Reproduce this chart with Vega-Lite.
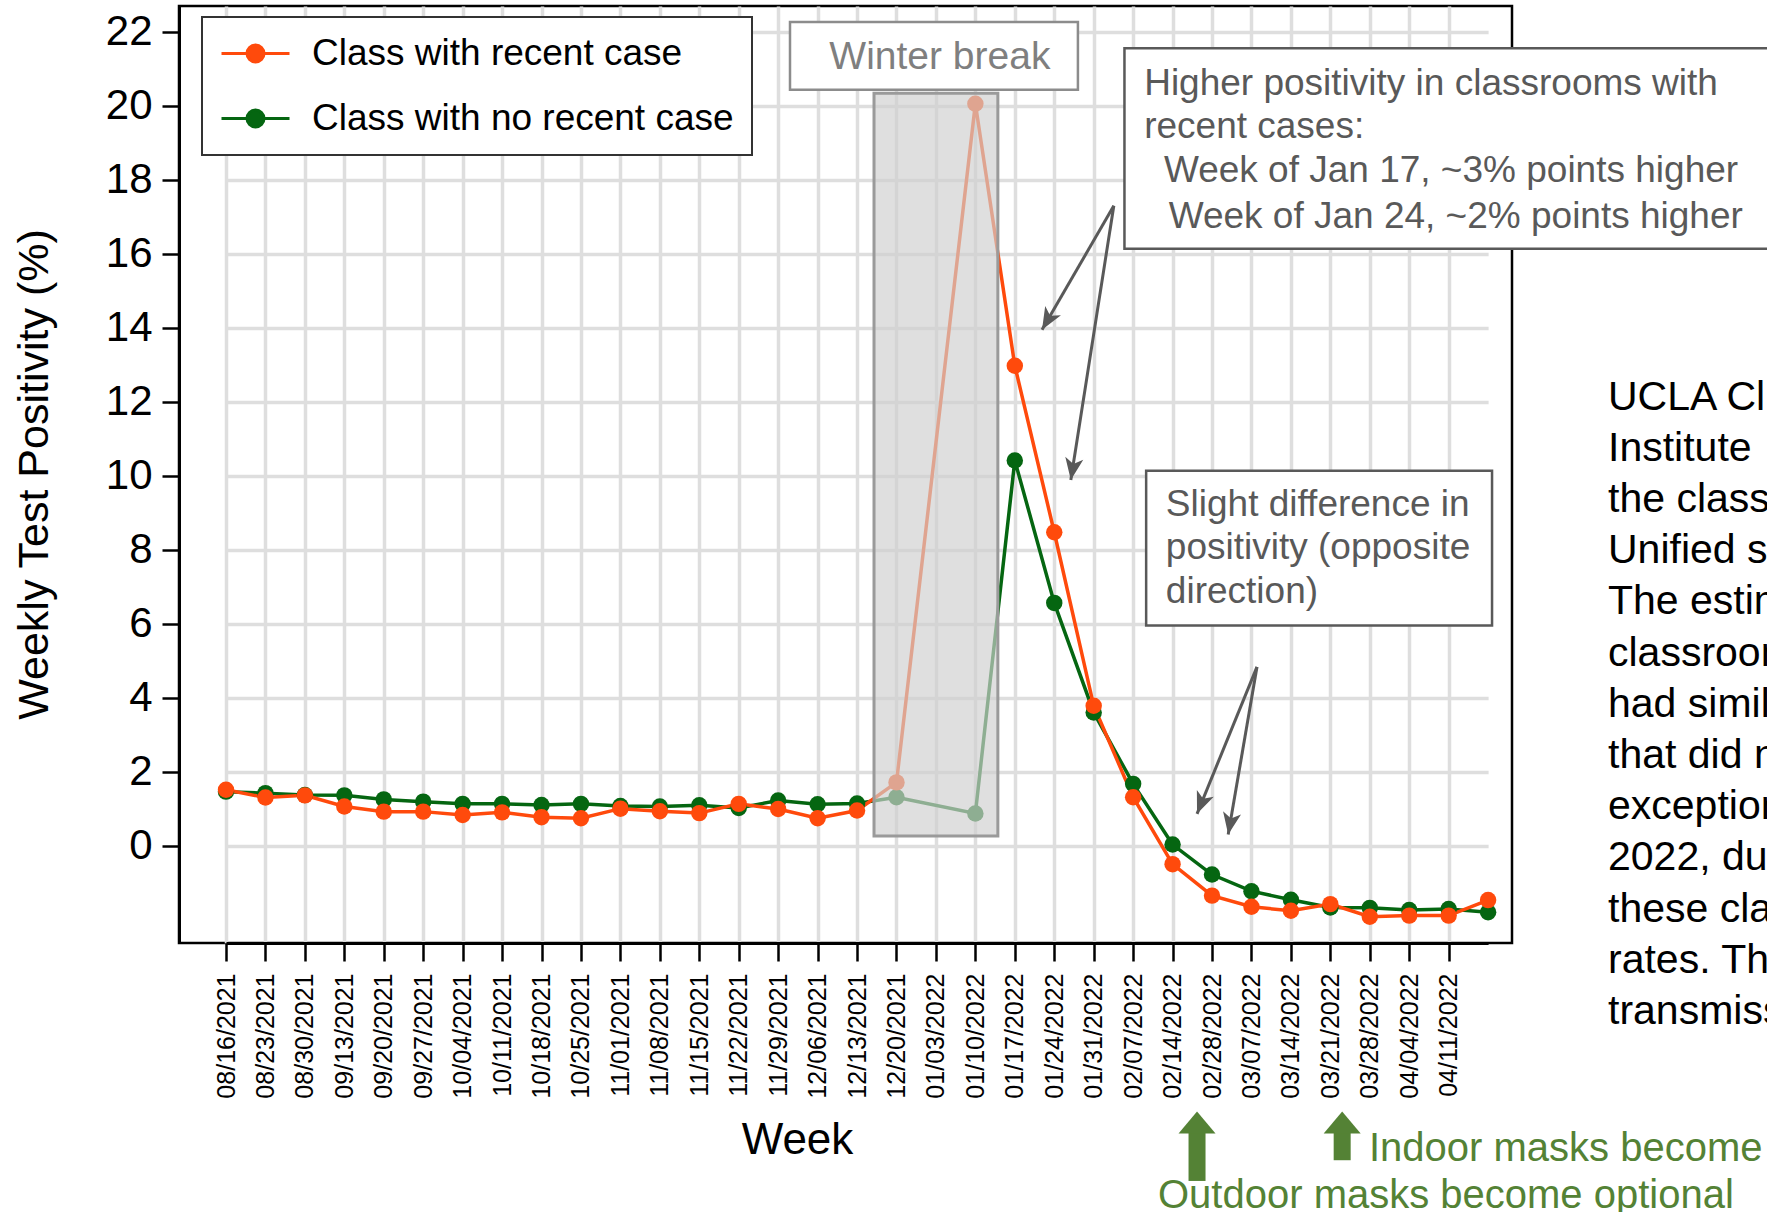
{
  "$schema": "https://vega.github.io/schema/vega-lite/v6.json",
  "width": 1333,
  "height": 937,
  "autosize": {"type": "none"},
  "padding": {"left": 179, "top": 6, "right": 255, "bottom": 269},
  "background": "white",
  "config": {"font": "Liberation Sans", "view": {"stroke": "black", "strokeWidth": 2.5}},
  "datasets": {
    "series": [
      {"week": "08/16/2021", "group": "Class with no recent case", "value": 1.46},
      {"week": "08/23/2021", "group": "Class with no recent case", "value": 1.42},
      {"week": "08/30/2021", "group": "Class with no recent case", "value": 1.37},
      {"week": "09/13/2021", "group": "Class with no recent case", "value": 1.36},
      {"week": "09/20/2021", "group": "Class with no recent case", "value": 1.25},
      {"week": "09/27/2021", "group": "Class with no recent case", "value": 1.19},
      {"week": "10/04/2021", "group": "Class with no recent case", "value": 1.13},
      {"week": "10/11/2021", "group": "Class with no recent case", "value": 1.13},
      {"week": "10/18/2021", "group": "Class with no recent case", "value": 1.1},
      {"week": "10/25/2021", "group": "Class with no recent case", "value": 1.13},
      {"week": "11/01/2021", "group": "Class with no recent case", "value": 1.07},
      {"week": "11/08/2021", "group": "Class with no recent case", "value": 1.06},
      {"week": "11/15/2021", "group": "Class with no recent case", "value": 1.09},
      {"week": "11/22/2021", "group": "Class with no recent case", "value": 1.02},
      {"week": "11/29/2021", "group": "Class with no recent case", "value": 1.22},
      {"week": "12/06/2021", "group": "Class with no recent case", "value": 1.12},
      {"week": "12/13/2021", "group": "Class with no recent case", "value": 1.14},
      {"week": "12/20/2021", "group": "Class with no recent case", "value": 1.31},
      {"week": "01/10/2022", "group": "Class with no recent case", "value": 0.87},
      {"week": "01/17/2022", "group": "Class with no recent case", "value": 10.41},
      {"week": "01/24/2022", "group": "Class with no recent case", "value": 6.56},
      {"week": "01/31/2022", "group": "Class with no recent case", "value": 3.6},
      {"week": "02/07/2022", "group": "Class with no recent case", "value": 1.67},
      {"week": "02/14/2022", "group": "Class with no recent case", "value": 0.03},
      {"week": "02/28/2022", "group": "Class with no recent case", "value": -0.78},
      {"week": "03/07/2022", "group": "Class with no recent case", "value": -1.23},
      {"week": "03/14/2022", "group": "Class with no recent case", "value": -1.46},
      {"week": "03/21/2022", "group": "Class with no recent case", "value": -1.67},
      {"week": "03/28/2022", "group": "Class with no recent case", "value": -1.68},
      {"week": "04/04/2022", "group": "Class with no recent case", "value": -1.74},
      {"week": "04/11/2022", "group": "Class with no recent case", "value": -1.71},
      {"week": "04/18/2022", "group": "Class with no recent case", "value": -1.8},
      {"week": "08/16/2021", "group": "Class with recent case", "value": 1.51},
      {"week": "08/23/2021", "group": "Class with recent case", "value": 1.3},
      {"week": "08/30/2021", "group": "Class with recent case", "value": 1.36},
      {"week": "09/13/2021", "group": "Class with recent case", "value": 1.06},
      {"week": "09/20/2021", "group": "Class with recent case", "value": 0.92},
      {"week": "09/27/2021", "group": "Class with recent case", "value": 0.92},
      {"week": "10/04/2021", "group": "Class with recent case", "value": 0.83},
      {"week": "10/11/2021", "group": "Class with recent case", "value": 0.9},
      {"week": "10/18/2021", "group": "Class with recent case", "value": 0.77},
      {"week": "10/25/2021", "group": "Class with recent case", "value": 0.74},
      {"week": "11/01/2021", "group": "Class with recent case", "value": 1.0},
      {"week": "11/08/2021", "group": "Class with recent case", "value": 0.93},
      {"week": "11/15/2021", "group": "Class with recent case", "value": 0.88},
      {"week": "11/22/2021", "group": "Class with recent case", "value": 1.13},
      {"week": "11/29/2021", "group": "Class with recent case", "value": 0.99},
      {"week": "12/06/2021", "group": "Class with recent case", "value": 0.74},
      {"week": "12/13/2021", "group": "Class with recent case", "value": 0.95},
      {"week": "12/20/2021", "group": "Class with recent case", "value": 1.71},
      {"week": "01/10/2022", "group": "Class with recent case", "value": 20.05},
      {"week": "01/17/2022", "group": "Class with recent case", "value": 12.97},
      {"week": "01/24/2022", "group": "Class with recent case", "value": 8.47},
      {"week": "01/31/2022", "group": "Class with recent case", "value": 3.78},
      {"week": "02/07/2022", "group": "Class with recent case", "value": 1.31},
      {"week": "02/14/2022", "group": "Class with recent case", "value": -0.5},
      {"week": "02/28/2022", "group": "Class with recent case", "value": -1.35},
      {"week": "03/07/2022", "group": "Class with recent case", "value": -1.65},
      {"week": "03/14/2022", "group": "Class with recent case", "value": -1.76},
      {"week": "03/21/2022", "group": "Class with recent case", "value": -1.58},
      {"week": "03/28/2022", "group": "Class with recent case", "value": -1.92},
      {"week": "04/04/2022", "group": "Class with recent case", "value": -1.89},
      {"week": "04/11/2022", "group": "Class with recent case", "value": -1.89},
      {"week": "04/18/2022", "group": "Class with recent case", "value": -1.47}
    ],
    "shade": [{"x": 16.43, "x2": 19.57, "value": 0.26, "value2": 20.33}],
    "boxes": [
      {"x": 14.3, "x2": 21.6, "value": 20.43, "value2": 22.26, "kind": "light"},
      {"x": 22.78, "x2": 40, "value": 16.13, "value2": 21.55, "kind": "dark"},
      {"x": 23.33, "x2": 32.1, "value": 5.95, "value2": 10.13, "kind": "dark"}
    ],
    "winter": [{"x": 18.1, "value": 21.3, "text": "Winter break"}],
    "notes": [
      {"x": 23.28, "value": 20.57, "text": "Higher positivity in classrooms with"},
      {"x": 23.28, "value": 19.43, "text": "recent cases:"},
      {"x": 23.78, "value": 18.23, "text": "Week of Jan 17, ~3% points higher"},
      {"x": 23.9, "value": 16.98, "text": "Week of Jan 24, ~2% points higher"},
      {"x": 23.83, "value": 9.21, "text": "Slight difference in"},
      {"x": 23.83, "value": 8.05, "text": "positivity (opposite"},
      {"x": 23.83, "value": 6.86, "text": "direction)"}
    ],
    "arrows": [
      {"x": 22.51, "value": 17.29, "x2": 20.69, "value2": 13.94, "angle": 210},
      {"x": 22.51, "value": 17.29, "x2": 21.42, "value2": 9.88, "angle": 189},
      {"x": 26.14, "value": 4.83, "x2": 24.62, "value2": 0.86, "angle": 202},
      {"x": 26.14, "value": 4.83, "x2": 25.41, "value2": 0.3, "angle": 190}
    ],
    "masks": [
      {"x": 24.62, "value": -9.06, "value2": -7.7, "tip": -7.18},
      {"x": 28.3, "value": -8.5, "value2": -7.7, "tip": -7.18}
    ],
    "maskText": [
      {"x": 28.98, "value": -8.21, "text": "Indoor masks become optional"},
      {"x": 23.63, "value": -9.47, "text": "Outdoor masks become optional"}
    ],
    "sideText": [
      {"x": 35.04, "value": 12.65, "text": "UCLA Clinical\nInstitute\nthe classrooms\nUnified school\nThe estimated\nclassrooms\nhad similar\nthat did not\nexception\n2022, during\nthese classrooms\nrates. The\ntransmission"}
    ]
  },
  "encoding": {
    "y": {
      "field": "value",
      "type": "quantitative",
      "scale": {"domain": [-2.63, 22.69], "nice": false, "zero": false},
      "axis": {
        "values": [0, 2, 4, 6, 8, 10, 12, 14, 16, 18, 20, 22],
        "title": "Weekly Test Positivity (%)",
        "titleFontSize": 43,
        "titleFontWeight": "normal",
        "titleColor": "black",
        "titleX": -145,
        "titleY": 468,
        "titleAngle": -90,
        "titleAlign": "center",
        "titleBaseline": "middle",
        "labelFontSize": 42,
        "labelColor": "black",
        "labelPadding": 10,
        "tickSize": 17,
        "tickWidth": 2.5,
        "tickColor": "black",
        "domainColor": "black",
        "domainWidth": 3,
        "grid": true,
        "gridColor": "#DEDEDE",
        "gridWidth": 3.5
      }
    }
  },
  "layer": [
    {
      "data": {"name": "series"},
      "encoding": {
        "x": {
          "field": "week",
          "type": "ordinal",
          "sort": null,
          "scale": {
            "type": "point",
            "domain": ["08/16/2021","08/23/2021","08/30/2021","09/13/2021","09/20/2021","09/27/2021","10/04/2021","10/11/2021","10/18/2021","10/25/2021","11/01/2021","11/08/2021","11/15/2021","11/22/2021","11/29/2021","12/06/2021","12/13/2021","12/20/2021","01/03/2022","01/10/2022","01/17/2022","01/24/2022","01/31/2022","02/07/2022","02/14/2022","02/28/2022","03/07/2022","03/14/2022","03/21/2022","03/28/2022","04/04/2022","04/11/2022","04/18/2022"],
            "range": [47, 1309.1],
            "padding": 0
          },
          "axis": {
            "values": ["08/16/2021","08/23/2021","08/30/2021","09/13/2021","09/20/2021","09/27/2021","10/04/2021","10/11/2021","10/18/2021","10/25/2021","11/01/2021","11/08/2021","11/15/2021","11/22/2021","11/29/2021","12/06/2021","12/13/2021","12/20/2021","01/03/2022","01/10/2022","01/17/2022","01/24/2022","01/31/2022","02/07/2022","02/14/2022","02/28/2022","03/07/2022","03/14/2022","03/21/2022","03/28/2022","04/04/2022","04/11/2022"],
            "title": "Week",
            "titleFontSize": 44,
            "titleFontWeight": "normal",
            "titleColor": "black",
            "titleX": 618,
            "titleY": 197,
            "titleAlign": "center",
            "titleBaseline": "middle",
            "labelAngle": 270,
            "labelFontSize": 25,
            "labelColor": "black",
            "labelPadding": 12,
            "tickSize": 18,
            "tickWidth": 2.5,
            "tickColor": "black",
            "domainColor": "black",
            "domainWidth": 3,
            "grid": true,
            "gridColor": "#DEDEDE",
            "gridWidth": 3.5
          }
        },
        "color": {
          "field": "group",
          "type": "nominal",
          "scale": {"domain": ["Class with recent case", "Class with no recent case"], "range": ["#FF4A0C", "#056611"]},
          "legend": {
            "orient": "none",
            "legendX": 23,
            "legendY": 11,
            "title": null,
            "symbolType": "M-1,0L3,0M1.5,0A0.5,0.5,0,1,1,0.5,0A0.5,0.5,0,1,1,1.5,0Z",
            "symbolSize": 1156,
            "symbolStrokeWidth": 3,
            "labelFontSize": 37,
            "labelColor": "black",
            "labelOffset": 55,
            "labelLimit": 700,
            "rowPadding": 27,
            "padding": 18,
            "strokeColor": "#333333",
            "fillColor": "white",
            "encode": {
              "symbols": {"update": {"fill": {"scale": "color", "field": "value"}, "stroke": {"scale": "color", "field": "value"}, "opacity": {"value": 1}}},
              "legend": {"update": {"strokeWidth": {"value": 2}}}
            }
          }
        }
      },
      "layer": [
        {"mark": {"type": "line", "strokeWidth": 3.5}},
        {"mark": {"type": "point", "filled": true, "size": 270, "opacity": 1}}
      ]
    },
    {
      "layer": [
        {
          "data": {"name": "shade"},
          "mark": {"type": "rect", "fill": "#D0D0D0", "fillOpacity": 0.68, "stroke": "#9A9A9A", "strokeWidth": 3},
          "encoding": {
            "x": {"field": "x", "type": "quantitative", "scale": {"domain": [-1.1917, 32.606], "nice": false, "zero": false}, "axis": null},
            "x2": {"field": "x2"},
            "y2": {"field": "value2"}
          }
        },
        {
          "data": {"name": "boxes"},
          "transform": [{"filter": "datum.kind === 'light'"}],
          "mark": {"type": "rect", "fill": "white", "stroke": "#8C8C8C", "strokeWidth": 2.5},
          "encoding": {
            "x": {"field": "x", "type": "quantitative", "scale": {"domain": [-1.1917, 32.606], "nice": false, "zero": false}, "axis": null},
            "x2": {"field": "x2"},
            "y2": {"field": "value2"}
          }
        },
        {
          "data": {"name": "boxes"},
          "transform": [{"filter": "datum.kind === 'dark'"}],
          "mark": {"type": "rect", "fill": "white", "stroke": "#595959", "strokeWidth": 2.5},
          "encoding": {
            "x": {"field": "x", "type": "quantitative", "scale": {"domain": [-1.1917, 32.606], "nice": false, "zero": false}, "axis": null},
            "x2": {"field": "x2"},
            "y2": {"field": "value2"}
          }
        },
        {
          "data": {"name": "winter"},
          "mark": {"type": "text", "fontSize": 39, "color": "#7F7F7F", "align": "center", "baseline": "middle"},
          "encoding": {
            "x": {"field": "x", "type": "quantitative", "scale": {"domain": [-1.1917, 32.606], "nice": false, "zero": false}, "axis": null},
            "text": {"field": "text"}
          }
        },
        {
          "data": {"name": "notes"},
          "mark": {"type": "text", "fontSize": 37, "color": "#595959", "align": "left", "baseline": "middle"},
          "encoding": {
            "x": {"field": "x", "type": "quantitative", "scale": {"domain": [-1.1917, 32.606], "nice": false, "zero": false}, "axis": null},
            "text": {"field": "text"}
          }
        },
        {
          "data": {"name": "arrows"},
          "mark": {"type": "rule", "color": "#595959", "strokeWidth": 3},
          "encoding": {
            "x": {"field": "x", "type": "quantitative", "scale": {"domain": [-1.1917, 32.606], "nice": false, "zero": false}, "axis": null},
            "x2": {"field": "x2"},
            "y2": {"field": "value2"}
          }
        },
        {
          "data": {"name": "arrows"},
          "mark": {"type": "point", "shape": "M0,0L-0.7,1.7L0,1.25L0.7,1.7Z", "size": 676, "filled": true, "color": "#595959", "opacity": 1},
          "encoding": {
            "x": {"field": "x2", "type": "quantitative", "scale": {"domain": [-1.1917, 32.606], "nice": false, "zero": false}, "axis": null},
            "y": {"field": "value2", "type": "quantitative", "scale": {"domain": [-2.63, 22.69], "nice": false, "zero": false}},
            "angle": {"field": "angle", "type": "quantitative", "scale": null}
          }
        },
        {
          "data": {"name": "masks"},
          "mark": {"type": "rule", "color": "#548235", "strokeWidth": 17, "strokeCap": "butt"},
          "encoding": {
            "x": {"field": "x", "type": "quantitative", "scale": {"domain": [-1.1917, 32.606], "nice": false, "zero": false}, "axis": null},
            "y2": {"field": "value2"}
          }
        },
        {
          "data": {"name": "masks"},
          "mark": {"type": "point", "shape": "M0,0L1,1.19L-1,1.19Z", "size": 1369, "filled": true, "color": "#548235", "opacity": 1},
          "encoding": {
            "x": {"field": "x", "type": "quantitative", "scale": {"domain": [-1.1917, 32.606], "nice": false, "zero": false}, "axis": null},
            "y": {"field": "tip", "type": "quantitative", "scale": {"domain": [-2.63, 22.69], "nice": false, "zero": false}}
          }
        },
        {
          "data": {"name": "maskText"},
          "mark": {"type": "text", "fontSize": 40, "color": "#548235", "align": "left", "baseline": "middle"},
          "encoding": {
            "x": {"field": "x", "type": "quantitative", "scale": {"domain": [-1.1917, 32.606], "nice": false, "zero": false}, "axis": null},
            "text": {"field": "text"}
          }
        },
        {
          "data": {"name": "sideText"},
          "mark": {"type": "text", "fontSize": 41, "color": "black", "align": "left", "baseline": "top", "lineBreak": "\n", "lineHeight": 51.2},
          "encoding": {
            "x": {"field": "x", "type": "quantitative", "scale": {"domain": [-1.1917, 32.606], "nice": false, "zero": false}, "axis": null},
            "text": {"field": "text"}
          }
        }
      ]
    }
  ],
  "resolve": {"scale": {"x": "independent"}}
}
